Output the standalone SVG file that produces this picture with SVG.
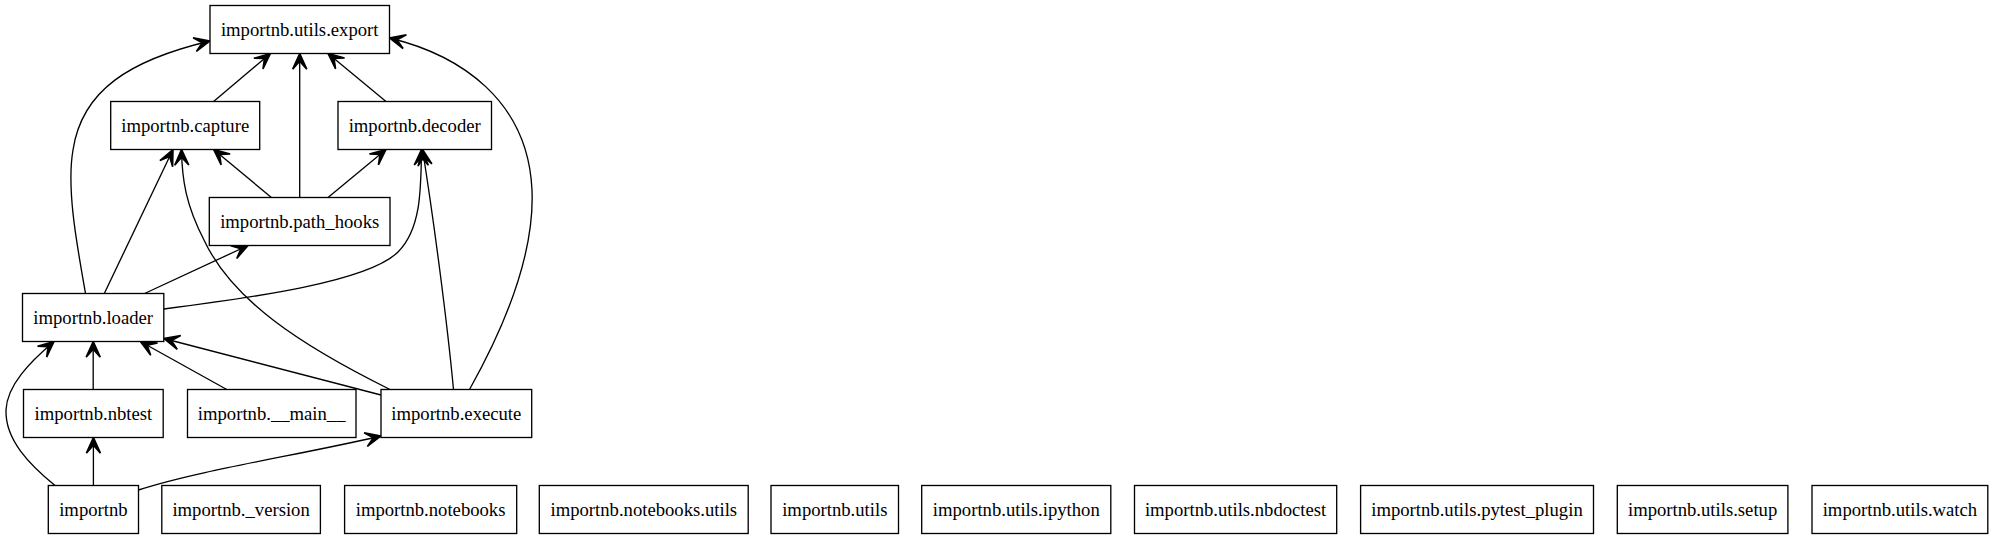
<svg xmlns="http://www.w3.org/2000/svg" width="1993" height="539" viewBox="0 0 1993 539">
<style>
.n rect{fill:#fff;stroke:#000;stroke-width:1.33}
.n text{font-family:'Liberation Serif','Times New Roman',Times,serif;font-size:18.67px;text-anchor:middle;fill:#000}
.e path{fill:none;stroke:#000;stroke-width:1.33;marker-end:url(#vee)}
</style>
<defs>
<marker id="vee" markerUnits="userSpaceOnUse" orient="auto" refX="0" refY="0" markerWidth="20" markerHeight="20" viewBox="-15 -8 17 16" overflow="visible">
<path d="M0,0 L-13.33,-6 L-6.67,0 L-13.33,6 Z" fill="#000" stroke="#000" stroke-width="1.33" stroke-linejoin="miter"/>
</marker>
</defs>
<rect width="1993" height="539" fill="#fff"/>
<g id="edges" class="e">
<path d="M213.6,101.5 L270.4,53.5"/>
<path d="M386,101.5 L328,53.5"/>
<path d="M299.7,197.5 L299.7,53.5"/>
<path d="M271.4,197.5 L213.6,149.5"/>
<path d="M328,197.5 L386,149.5"/>
<path d="M104.3,293.5 L173,149.5"/>
<path d="M144.6,293.5 L248,245.5"/>
<path d="M85.5,293.5 C78,250 66,190 73,150 C82,90 130,60 210,41"/>
<path d="M163.8,309 C250,298 368,282 398,252 C421,229 421,190 421.5,149.5"/>
<path d="M453.5,389.5 C447,320 433,215 422.5,149.5"/>
<path d="M469.5,389.5 C500,335 535,260 532,190 C528,100 460,55 389.5,38"/>
<path d="M390,389.5 C300,345 232,300 204,240 C186,205 182,180 181.5,149.5"/>
<path d="M226.8,389.5 L140.4,341.5"/>
<path d="M381,395 L163.8,338.5"/>
<path d="M93.2,389.5 L93.2,341.5"/>
<path d="M93.4,485.5 L93.4,437.5"/>
<path d="M55,485.5 C30,465 5,440 6,410 C7,385 30,362 54,341.5"/>
<path d="M138.5,490 C200,470 300,455 381,436"/>
</g>
<g id="importnb.utils.export" class="n"><rect x="210" y="5.5" width="179.5" height="48"/><text x="299.7" y="36">importnb.utils.export</text></g>
<g id="importnb.capture" class="n"><rect x="110.7" y="101.5" width="149" height="48"/><text x="185.2" y="132">importnb.capture</text></g>
<g id="importnb.decoder" class="n"><rect x="338" y="101.5" width="153.5" height="48"/><text x="414.7" y="132">importnb.decoder</text></g>
<g id="importnb.path_hooks" class="n"><rect x="209.3" y="197.5" width="180.7" height="48"/><text x="299.7" y="228">importnb.path_hooks</text></g>
<g id="importnb.loader" class="n"><rect x="22.5" y="293.5" width="141.3" height="48"/><text x="93.2" y="324">importnb.loader</text></g>
<g id="importnb.nbtest" class="n"><rect x="23.5" y="389.5" width="139.7" height="48"/><text x="93.4" y="420">importnb.nbtest</text></g>
<g id="importnb.__main__" class="n"><rect x="187.5" y="389.5" width="168.5" height="48"/><text x="271.7" y="420">importnb.__main__</text></g>
<g id="importnb.execute" class="n"><rect x="381" y="389.5" width="150.7" height="48"/><text x="456.3" y="420">importnb.execute</text></g>
<g id="importnb" class="n"><rect x="48.3" y="485.5" width="90.2" height="48"/><text x="93.4" y="516">importnb</text></g>
<g id="importnb._version" class="n"><rect x="161.8" y="485.5" width="158.6" height="48"/><text x="241.1" y="516">importnb._version</text></g>
<g id="importnb.notebooks" class="n"><rect x="344.6" y="485.5" width="172.1" height="48"/><text x="430.6" y="516">importnb.notebooks</text></g>
<g id="importnb.notebooks.utils" class="n"><rect x="539.3" y="485.5" width="208.9" height="48"/><text x="643.8" y="516">importnb.notebooks.utils</text></g>
<g id="importnb.utils" class="n"><rect x="771" y="485.5" width="127.5" height="48"/><text x="834.8" y="516">importnb.utils</text></g>
<g id="importnb.utils.ipython" class="n"><rect x="921.7" y="485.5" width="189.1" height="48"/><text x="1016.3" y="516">importnb.utils.ipython</text></g>
<g id="importnb.utils.nbdoctest" class="n"><rect x="1134.5" y="485.5" width="202.2" height="48"/><text x="1235.6" y="516">importnb.utils.nbdoctest</text></g>
<g id="importnb.utils.pytest_plugin" class="n"><rect x="1360.6" y="485.5" width="232.9" height="48"/><text x="1477" y="516">importnb.utils.pytest_plugin</text></g>
<g id="importnb.utils.setup" class="n"><rect x="1617.3" y="485.5" width="170.6" height="48"/><text x="1702.6" y="516">importnb.utils.setup</text></g>
<g id="importnb.utils.watch" class="n"><rect x="1812" y="485.5" width="175.8" height="48"/><text x="1899.9" y="516">importnb.utils.watch</text></g>
</svg>
